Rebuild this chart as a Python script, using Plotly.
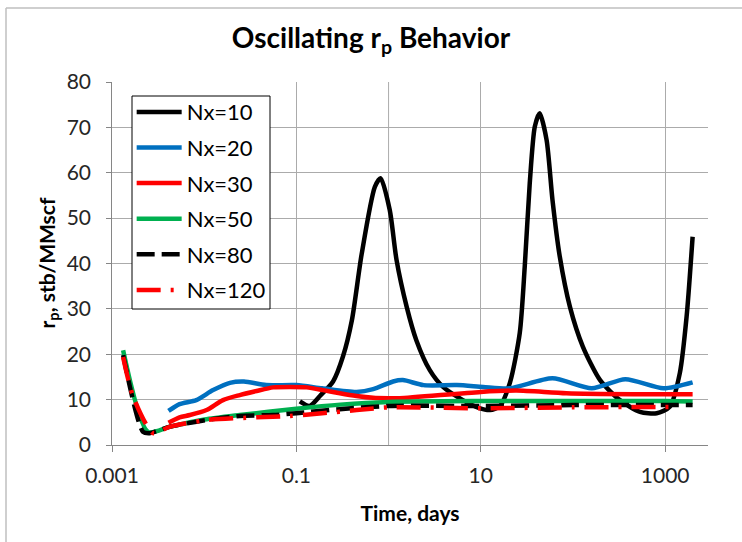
import plotly.graph_objects as go

# Time (days) and r_p (stb/MMscf) for each grid refinement
t10 = [0.109, 0.139, 0.18, 0.25, 0.32, 0.40, 0.51, 0.71, 0.82, 1.03, 1.22, 1.57, 2.0, 2.8, 3.9,
       6.4, 9.5, 12.6, 16, 20.7, 26.5, 30, 34, 38.6, 43.6, 51.8, 60, 72, 92.6, 128, 197, 323,
       533, 809, 1122, 1445, 1710, 1987]
r10 = [9.6, 8.6, 10.8, 14.0, 19.5, 27.5, 42.0, 56.9, 58.8, 51.8, 40.8, 30.5, 23.1, 16.5, 12.8,
       9.9, 8.2, 7.7, 8.5, 13.7, 24.7, 39.3, 57.7, 70.2, 73.1, 67.2, 54.0, 41.5, 30.5, 21.7, 14.3, 9.9,
       7.3, 7.0, 8.4, 15.9, 28.3, 45.9]

t20 = [0.0041, 0.0054, 0.0082, 0.0125, 0.019, 0.027, 0.047, 0.1, 0.19, 0.45, 0.68, 1.12, 1.43,
       2.4, 5.5, 10.6, 20.7, 60, 160, 370, 960, 1987]
r20 = [7.5, 9.0, 9.9, 12.1, 13.7, 14.0, 13.2, 13.2, 12.5, 11.7, 12.3, 14.0, 14.3,
       13.2, 13.2, 12.8, 12.5, 14.7, 12.5, 14.5, 12.5, 13.8]

t30 = [0.0041, 0.0054, 0.0070, 0.0106, 0.016, 0.0243, 0.037, 0.056, 0.085, 0.129, 0.195, 0.296,
       0.45, 0.68, 1.0, 1.32, 10, 24.5, 85, 451, 1987]
r30 = [4.9, 6.1, 6.6, 7.7, 9.9, 11.0, 11.9, 12.7, 12.8, 12.7, 12.1, 11.4,
       10.8, 10.4, 10.3, 10.3, 11.7, 12.0, 11.4, 11.2, 11.2]

t50 = [0.00132, 0.00246, 0.0042, 0.0101, 0.0243, 0.1, 0.3, 1.0, 10, 100, 1000, 1987]
r50 = [20.9, 2.9, 4.0, 5.6, 6.6, 8.0, 8.9, 9.5, 9.7, 9.7, 9.7, 9.6]

t80 = [0.00132, 0.00217, 0.00256, 0.0042, 0.0106, 0.0243, 0.056, 0.1, 0.296, 1.0, 10, 100, 1987]
r80 = [19.8, 2.9, 2.6, 4.0, 5.5, 6.4, 6.6, 7.0, 7.9, 8.6, 8.6, 8.8, 8.8]

t120 = [0.00132, 0.0017, 0.0028, 0.0042, 0.0106, 0.037, 0.085, 0.19, 0.45, 1.0, 10, 100, 1400]
r120 = [19.4, 10.6, 2.6, 4.0, 5.5, 6.1, 6.4, 7.0, 7.7, 8.3, 8.1, 8.3, 8.4]

series = [
    ("Nx=10", t10, r10, "#000000", "solid"),
    ("Nx=20", t20, r20, "#0070C0", "solid"),
    ("Nx=30", t30, r30, "#FF0000", "solid"),
    ("Nx=50", t50, r50, "#00B050", "solid"),
    ("Nx=80", t80, r80, "#000000", "18px,7px"),
    ("Nx=120", t120, r120, "#FF0000", "24px,10px,3px,10px"),
]

x_ticks = [0.001, 0.1, 10, 1000]
x_tick_labels = ["0.001", "0.1", "10", "1000"]

FONT = "Lato"
GRID = "#ababab"

# plot-area size in pixels, used to place the legend frame, y title and chart border
PW, PH = 596, 363

fig = go.Figure()
for name, t, r, color, dash in series:
    fig.add_trace(go.Scatter(
        x=t, y=r, name=name, mode="lines",
        line=dict(color=color, width=4.5, dash=dash, shape="spline", smoothing=0.7),
        legendgroup=name,
    ))

fig.update_layout(
    width=742, height=542,
    margin=dict(l=112, r=34, t=82, b=97),
    paper_bgcolor="white", plot_bgcolor="white",
    font=dict(family=FONT, color="#262626"),
    title=dict(
        text="<b>Oscillating r<sub>p</sub> Behavior</b>",
        x=0.5, xanchor="center", y=0.93, yanchor="middle",
        font=dict(family=FONT, size=28, color="#000000"),
    ),
    showlegend=True,
    legend=dict(
        x=0.033, y=0.975, xanchor="left", yanchor="top",
        bgcolor="rgba(0,0,0,0)", borderwidth=0,
        font=dict(family=FONT, size=22, color="#000000"),
        tracegroupgap=4, itemwidth=45,
    ),
    xaxis=dict(
        type="log", range=[-3, 3.465],
        tickvals=x_ticks, ticktext=x_tick_labels,
        showgrid=True, gridcolor=GRID, gridwidth=1,
        showline=True, linecolor="#868686", linewidth=1,
        ticks="outside", ticklen=6, tickcolor="#868686",
        ticklabelstandoff=6,
        tickfont=dict(family=FONT, size=21, color="#262626"),
        title=dict(text="<b>Time, days</b>", font=dict(family=FONT, size=21, color="#000000"),
                   standoff=20),
        zeroline=False,
    ),
    yaxis=dict(
        range=[0, 80], dtick=10, tick0=0,
        showgrid=True, gridcolor=GRID, gridwidth=1,
        showline=True, linecolor="#868686", linewidth=1,
        ticks="outside", ticklen=5, tickcolor="#868686",
        ticksuffix="\u00a0\u00a0",
        tickfont=dict(family=FONT, size=21, color="#262626"),
        zeroline=False,
    ),
    annotations=[
        dict(text="<b>r<sub>p</sub>, stb/MMscf</b>", textangle=-90,
             xref="paper", yref="paper", x=(47 - 112) / PW, y=0.5,
             xanchor="center", yanchor="middle", showarrow=False,
             font=dict(family=FONT, size=21, color="#000000")),
    ],
    shapes=[
        # extra vertical gridline at 1 day
        dict(type="line", xref="x", yref="paper", x0=1, x1=1, y0=0, y1=1,
             line=dict(color=GRID, width=1), layer="below"),
        # legend frame
        dict(type="rect", xref="paper", yref="paper",
             x0=20 / PW, x1=158 / PW, y0=(PH - 227) / PH, y1=(PH - 14) / PH,
             fillcolor="white", line=dict(color="#000000", width=1), layer="above"),
        # chart-area border (left and top edges)
        dict(type="line", xref="paper", yref="paper", x0=-106 / PW, x1=-106 / PW,
             y0=-97 / PH, y1=(PH + 74) / PH, line=dict(color="#bfbfbf", width=1.5)),
        dict(type="line", xref="paper", yref="paper", x0=-106 / PW, x1=(PW + 34) / PW,
             y0=(PH + 74) / PH, y1=(PH + 74) / PH, line=dict(color="#bfbfbf", width=1.5)),
    ],
)

fig.write_html("out.html")
